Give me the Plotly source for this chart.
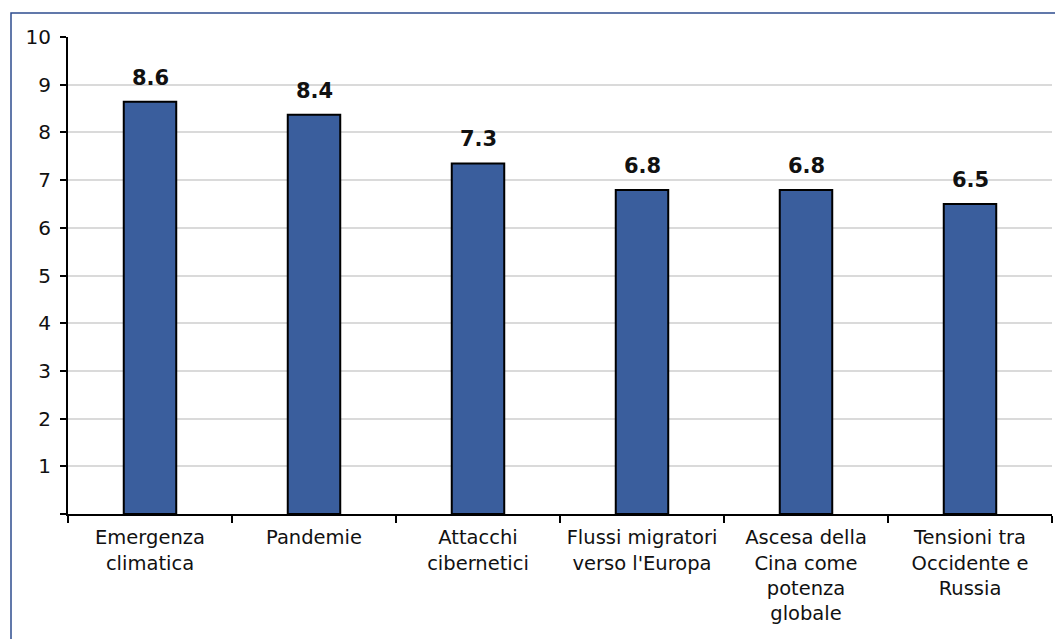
import plotly.graph_objects as go

categories = ["Emergenza<br>climatica", "Pandemie", "Attacchi<br>cibernetici",
              "Flussi migratori<br>verso l'Europa", "Ascesa della<br>Cina come<br>potenza<br>globale",
              "Tensioni tra<br>Occidente e<br>Russia"]
values = [8.64, 8.37, 7.35, 6.79, 6.79, 6.50]
value_labels = ["8.6", "8.4", "7.3", "6.8", "6.8", "6.5"]
y_tick_vals = [0, 1, 2, 3, 4, 5, 6, 7, 8, 9, 10]
y_tick_text = ["", "1", "2", "3", "4", "5", "6", "7", "8", "9", "10"]

FONT = "DejaVu Sans, Open Sans, sans-serif"

fig = go.Figure()
fig.add_trace(go.Bar(
    x=categories, y=values,
    marker=dict(color="#3A5E9D", line=dict(color="#000000", width=2)),
    width=0.32,
    hoverinfo="skip",
))

for c, v, t in zip(categories, values, value_labels):
    fig.add_annotation(x=c, y=v, text="<b>%s</b>" % t, showarrow=False,
                       yanchor="bottom", yshift=10,
                       font=dict(family=FONT, size=21, color="#111111"))

L, R, T, B = 68, 3, 37, 125
W, H = 1055, 639
pw, ph = W - L - R, H - T - B
base = T + ph
fig.add_shape(type="rect", xref="paper", yref="paper",
              x0=(11 - L) / pw, x1=(W + 10 - L) / pw,
              y0=(base - (H + 10)) / ph, y1=(base - 13) / ph,
              line=dict(color="#2E4C8F", width=1.5), layer="below")

fig.update_layout(
    width=W, height=H,
    margin=dict(l=L, r=R, t=T, b=B, autoexpand=False),
    paper_bgcolor="white", plot_bgcolor="white",
    showlegend=False,
    bargap=0.68,
    font=dict(family=FONT, size=19, color="#111111"),
)
fig.update_xaxes(
    showline=True, linecolor="black", linewidth=2,
    ticks="outside", tickson="boundaries", ticklen=7, tickwidth=2, tickcolor="black",
    showgrid=False, tickfont=dict(size=19.5), ticklabelstandoff=5,
    tickangle=0, automargin=False,
)
fig.update_yaxes(
    range=[0, 10], tickvals=y_tick_vals, ticktext=y_tick_text,
    showline=True, linecolor="black", linewidth=2,
    ticks="outside", ticklen=6, tickwidth=2, tickcolor="black",
    showgrid=True, gridcolor="#DADADA", gridwidth=2,
    zeroline=False, tickfont=dict(size=20), ticklabelstandoff=5,
    automargin=False,
)

fig.write_html("out.html")
